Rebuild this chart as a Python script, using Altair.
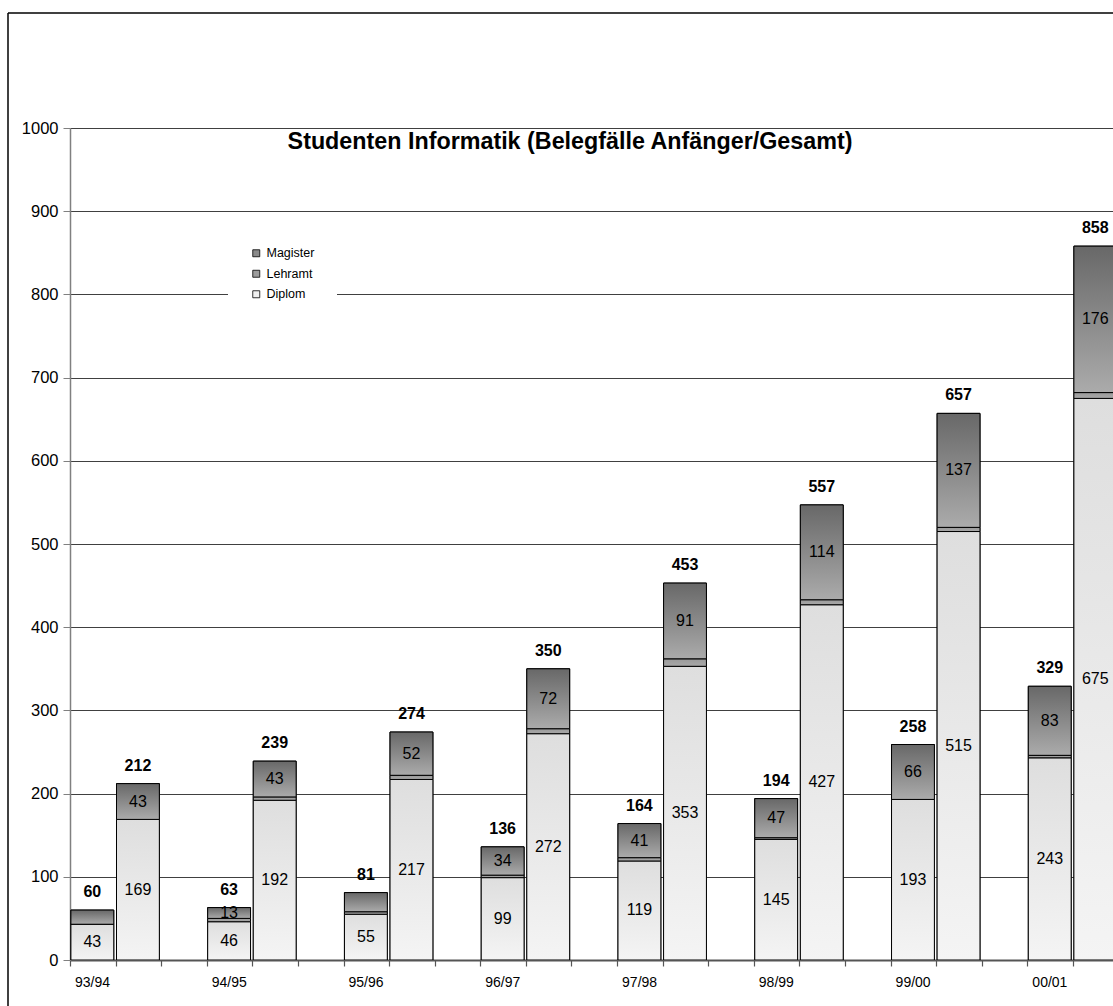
import altair as alt
import pandas as pd

years = ["93/94", "94/95", "95/96", "96/97", "97/98", "98/99", "99/00", "00/01"]
series_order = ["Magister", "Lehramt", "Diplom"]

# Anfänger (first bar of each year)
diplom_anf = [43, 46, 55, 99, 119, 145, 193, 243]
lehramt_anf = [0, 4, 3, 3, 4, 2, 0, 3]
magister_anf = [17, 13, 23, 34, 41, 47, 66, 83]
magister_anf_label = [None, 13, None, 34, 41, 47, 66, 83]
total_anf_label = [60, 63, 81, 136, 164, 194, 258, 329]

# Gesamt (second bar of each year)
diplom_ges = [169, 192, 217, 272, 353, 427, 515, 675]
lehramt_ges = [0, 4, 5, 6, 9, 6, 5, 7]
magister_ges = [43, 43, 52, 72, 91, 114, 137, 176]
magister_ges_label = [43, 43, 52, 72, 91, 114, 137, 176]
total_ges_label = [212, 239, 274, 350, 453, 557, 657, 858]

FONT = "Liberation Sans"
SLOT_PX = 45.59
PLOT_W = 1043
PLOT_H = 832

seg_rows, dip_lab, mag_lab, tot_lab = [], [], [], []
for i, yr in enumerate(years):
    for k, (d, l, m, ml, tl) in enumerate([
        (diplom_anf[i], lehramt_anf[i], magister_anf[i], magister_anf_label[i], total_anf_label[i]),
        (diplom_ges[i], lehramt_ges[i], magister_ges[i], magister_ges_label[i], total_ges_label[i]),
    ]):
        slot = 3 * i + k
        x0, x1, xc = slot + 0.02, slot + 0.96, slot + 0.49
        seg_rows.append(dict(series="Diplom", x0=x0, x1=x1, y0=0, y1=d))
        seg_rows.append(dict(series="Lehramt", x0=x0, x1=x1, y0=d, y1=d + l))
        seg_rows.append(dict(series="Magister", x0=x0, x1=x1, y0=d + l, y1=d + l + m))
        dip_lab.append(dict(xc=xc, y=d / 2, t=str(d)))
        if ml is not None:
            mag_lab.append(dict(xc=xc, y=d + l + m / 2, t=str(ml)))
        tot_lab.append(dict(xc=xc, y=d + l + m, t=str(tl)))

seg = pd.DataFrame(seg_rows)
dip_df = pd.DataFrame(dip_lab)
mag_df = pd.DataFrame(mag_lab)
tot_df = pd.DataFrame(tot_lab)

xmax = PLOT_W / SLOT_PX
xscale = alt.Scale(domain=[0, xmax], nice=False, zero=False)
yscale = alt.Scale(domain=[0, 1000], nice=False)

label_arr = "[" + ",".join("'" + y + "'" for y in years) + "]"
label_expr = "datum.value % 3 === 0 ? " + label_arr + "[datum.value / 3] : ''"
xaxis = alt.Axis(
    values=list(range(0, 23)),
    labelExpr=label_expr,
    labelOffset=22, labelFlush=False, labelOverlap=False, labelBound=False,
    tickSize=6, tickColor="#555555", tickWidth=1.2,
    domainColor="#555555", domainWidth=2,
    grid=False, labelFontSize=14, labelFont=FONT, labelColor="black",
    labelPadding=9, title=None,
)
yaxis = alt.Axis(
    values=list(range(0, 1001, 100)), format="d",
    labelFontSize=16.5, labelFont=FONT, labelColor="black",
    tickSize=7, tickColor="#808080", domainColor="#808080", domainWidth=1.5,
    grid=True, gridColor="#404040", gridWidth=1, labelPadding=5, title=None,
)

base_bars = alt.Chart(seg).mark_bar(stroke="black", strokeWidth=1, clip=True).encode(
    x=alt.X("x0:Q", scale=xscale, axis=xaxis),
    x2="x1:Q",
    y=alt.Y("y0:Q", scale=yscale, axis=yaxis),
    y2="y1:Q",
    color=alt.Color(
        "series:N",
        scale=alt.Scale(domain=series_order, range=["#8a8a8a", "#9c9c9c", "#f0f0f0"]),
        legend=alt.Legend(
            orient="none", legendX=158, legendY=97, fillColor="white", padding=22,
            symbolType="square", symbolSize=49, symbolStrokeColor="black",
            symbolStrokeWidth=0.8, labelFont=FONT, labelFontSize=12.5,
            labelColor="black", title=None, rowPadding=7.5, labelOffset=4,
        ),
    ),
)


def grad(top, bottom):
    return alt.Gradient(
        gradient="linear",
        stops=[alt.GradientStop(color=top, offset=0), alt.GradientStop(color=bottom, offset=1)],
        x1=0, x2=0, y1=0, y2=1,
    )


fills = {
    "Diplom": grad("#dedede", "#f4f4f4"),
    "Lehramt": grad("#9a9a9a", "#a8a8a8"),
    "Magister": grad("#686868", "#ababab"),
}
grad_layers = [
    alt.Chart(seg[seg.series == s]).mark_bar(fill=fills[s], stroke="black", strokeWidth=1, clip=True).encode(
        x=alt.X("x0:Q", scale=xscale), x2="x1:Q", y=alt.Y("y0:Q", scale=yscale), y2="y1:Q"
    )
    for s in ["Diplom", "Lehramt", "Magister"]
]

dip_text = alt.Chart(dip_df).mark_text(font=FONT, fontSize=16, color="black").encode(
    x=alt.X("xc:Q", scale=xscale), y=alt.Y("y:Q", scale=yscale), text="t:N"
)
mag_text = alt.Chart(mag_df).mark_text(font=FONT, fontSize=16, color="black").encode(
    x=alt.X("xc:Q", scale=xscale), y=alt.Y("y:Q", scale=yscale), text="t:N"
)
tot_text = alt.Chart(tot_df).mark_text(font=FONT, fontSize=16, fontWeight="bold", color="black", dy=-18).encode(
    x=alt.X("xc:Q", scale=xscale), y=alt.Y("y:Q", scale=yscale), text="t:N"
)

one = pd.DataFrame({"a": [0]})
title_text = alt.Chart(one).mark_text(
    font=FONT, fontSize=23.3, fontWeight="bold", color="black", align="center", baseline="middle"
).encode(x=alt.value(500), y=alt.value(14), text=alt.value("Studenten Informatik (Belegfälle Anfänger/Gesamt)"))

frame_top = alt.Chart(one).mark_rule(color="black", strokeWidth=1.5).encode(
    x=alt.value(-62), x2=alt.value(1100), y=alt.value(-115)
)
frame_left = alt.Chart(one).mark_rule(color="black", strokeWidth=1.5).encode(
    x=alt.value(-62), y=alt.value(-115), y2=alt.value(900)
)

chart = alt.layer(
    base_bars, *grad_layers, dip_text, mag_text, tot_text, title_text, frame_top, frame_left
).properties(
    width=PLOT_W, height=PLOT_H,
    padding={"left": 70, "top": 128, "right": 0, "bottom": 46},
    autosize=alt.AutoSizeParams(type="none"),
).configure_view(stroke=None).configure(background="white")

chart.save("out.html", embed_options={"renderer": "svg", "actions": False})
